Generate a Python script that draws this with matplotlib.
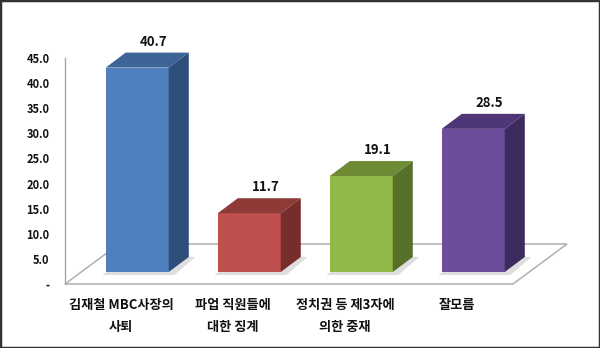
import numpy as np
import matplotlib.pyplot as plt
from matplotlib.patches import Polygon, Rectangle

plt.rcParams['font.family'] = ['Noto Sans CJK KR', 'DejaVu Sans']

categories = ['김재철 MBC사장의\n사퇴', '파업 직원들에\n대한 징계', '정치권 등 제3자에\n의한 중재', '잘모름']
values = [40.7, 11.7, 19.1, 28.5]
y_ticks = [0, 5, 10, 15, 20, 25, 30, 35, 40, 45]

front_colors = ['#4f7fbe', '#c0504d', '#93b84a', '#6c4d9c']
top_colors = ['#3d6496', '#8e3a37', '#6e8b35', '#4f3777']
side_colors = ['#2f4e79', '#772d2b', '#56702a', '#3d2a5f']

W, H = 600, 348
fig = plt.figure(figsize=(W / 100, H / 100), dpi=100)
ax = fig.add_axes([65 / W, (H - 284) / H, 448 / W, 226 / H])
ax.set_xlim(-0.5, 3.5)
ax.set_ylim(0, 45)

# 3d look: floor depth and bar depth in data units
floor_dx, floor_dy = 0.482, 7.96
bar_dx, bar_dy = 0.179, 2.99
shift_x, shift_y = 0.145, 2.39
bw = 0.5625

x = np.arange(len(categories))

# floor
floor = Polygon([(-0.5, 0), (3.5, 0), (3.5 + floor_dx, floor_dy), (-0.5 + floor_dx, floor_dy)],
                closed=True, facecolor='white', edgecolor='#b4b4b4', lw=1.2,
                zorder=1, clip_on=False)
ax.add_patch(floor)

bars = ax.bar(x + shift_x, values, width=bw, bottom=shift_y, color=front_colors,
              zorder=3, clip_on=False, linewidth=0)

for i, b in enumerate(bars):
    x0, x1 = b.get_x(), b.get_x() + b.get_width()
    y0 = b.get_y()
    top = y0 + b.get_height()
    # soft shadow on floor
    shadow = Polygon([(x0 - 0.03, y0 - 0.6), (x1 + 0.05, y0 - 0.6),
                      (x1 + bar_dx + 0.06, y0 + bar_dy), (x0 + bar_dx, y0 + bar_dy)],
                     closed=True, facecolor='#c8c8c8', edgecolor='none', alpha=0.6,
                     zorder=2, clip_on=False)
    ax.add_patch(shadow)
    top_face = Polygon([(x0, top), (x1, top), (x1 + bar_dx, top + bar_dy), (x0 + bar_dx, top + bar_dy)],
                       closed=True, facecolor=top_colors[i], edgecolor='none',
                       zorder=3, clip_on=False)
    side_face = Polygon([(x1, y0), (x1 + bar_dx, y0 + bar_dy), (x1 + bar_dx, top + bar_dy), (x1, top)],
                        closed=True, facecolor=side_colors[i], edgecolor='none',
                        zorder=3, clip_on=False)
    ax.add_patch(top_face)
    ax.add_patch(side_face)
    ax.text(x0 + bw / 2 + bar_dx * 0.8, top + bar_dy + 2.2, f'{values[i]:.1f}',
            ha='center', va='center', fontsize=9.5, fontweight='bold', color='#111111')

# axes styling
for s in ['top', 'right', 'bottom']:
    ax.spines[s].set_visible(False)
ax.spines['left'].set_color('#a6a6a6')
ax.spines['left'].set_linewidth(1.0)
ax.set_yticks(y_ticks)
ax.set_yticklabels(['-' if v == 0 else f'{v:.1f}' for v in y_ticks],
                   fontsize=8, fontweight='bold', color='#111111')
ax.tick_params(axis='y', length=0, pad=11)
ax.set_xticks(x)
ax.set_xticklabels(categories, fontsize=9.5, fontweight='bold', color='#111111',
                   linespacing=1.75)
ax.tick_params(axis='x', length=0, pad=10)
ax.patch.set_visible(False)

# outer frame
fig.patches.append(Rectangle((0, 0), 1, 1, transform=fig.transFigure, fill=False,
                             edgecolor='#333333', linewidth=2.5))

fig.savefig('out.png', dpi=100)
